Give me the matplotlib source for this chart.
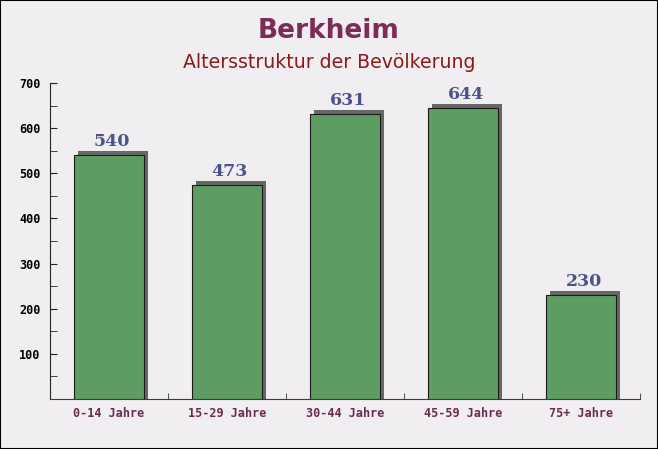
import matplotlib
matplotlib.use('Agg')
import matplotlib.pyplot as plt
import matplotlib.transforms as mtransforms
from matplotlib.patches import Rectangle

categories = ['0-14 Jahre', '15-29 Jahre', '30-44 Jahre', '45-59 Jahre', '75+ Jahre']
values = [540, 473, 631, 644, 230]
title = 'Berkheim'
subtitle = 'Altersstruktur der Bevölkerung'

W, H = 658, 449
fig = plt.figure(figsize=(W / 100, H / 100), dpi=100, facecolor='#f1eef1')
ax = fig.add_axes([50 / W, (H - 399) / H, 590 / W, 316 / H])
ax.set_facecolor('none')

x = list(range(len(categories)))
width = 0.6
shadow = mtransforms.offset_copy(ax.transData, fig=fig, x=4, y=4, units='dots')
ax.bar(x, [v + 20 for v in values], bottom=-20, width=width, color='#676767',
       edgecolor='none', transform=shadow, zorder=2)
ax.bar(x, values, width=width, color='#5f9c61', edgecolor='#1a1a1a', linewidth=0.8, zorder=3)

for xi, v in zip(x, values):
    ax.annotate(str(v), (xi, v), xytext=(2, 4), textcoords='offset points',
                ha='center', va='bottom', fontsize=12.5, fontweight='bold',
                family='DejaVu Serif', color='#4d5386', zorder=4)

ax.set_xlim(-0.5, len(categories) - 0.5)
ax.set_ylim(0, 700)
ax.set_yticks(range(100, 701, 100))
ax.set_yticks(range(50, 701, 50), minor=True)
ax.set_xticks(x)
ax.set_xticklabels(categories)
ax.set_xticks([i + 0.5 for i in range(-1, len(categories))], minor=True)
ax.tick_params(axis='x', which='major', length=0, pad=6, labelsize=8.5, labelcolor='#6b2a4f')
ax.tick_params(axis='x', which='minor', direction='in', length=4, color='#333333')
ax.tick_params(axis='y', which='both', direction='in', length=5, color='#222222',
               labelsize=8.5, pad=7)
for lab in ax.get_xticklabels() + ax.get_yticklabels():
    lab.set_family('DejaVu Sans Mono')
    lab.set_fontweight('bold')

for s in ['top', 'right']:
    ax.spines[s].set_visible(False)
ax.spines['left'].set_color('#222222')
ax.spines['bottom'].set_color('#5a2a40')

fig.text(0.5, 1 - 31 / H, title, ha='center', va='center', fontsize=19,
         fontweight='bold', color='#7b2d57')
fig.text(0.5, 1 - 63 / H, subtitle, ha='center', va='center', fontsize=13.6,
         color='#8b1a1a')

fig.patches.append(Rectangle((0, 0), 1, 1, transform=fig.transFigure, fill=False,
                             edgecolor='black', linewidth=1.5, zorder=10))

fig.savefig('out.png', dpi=100, facecolor=fig.get_facecolor())
